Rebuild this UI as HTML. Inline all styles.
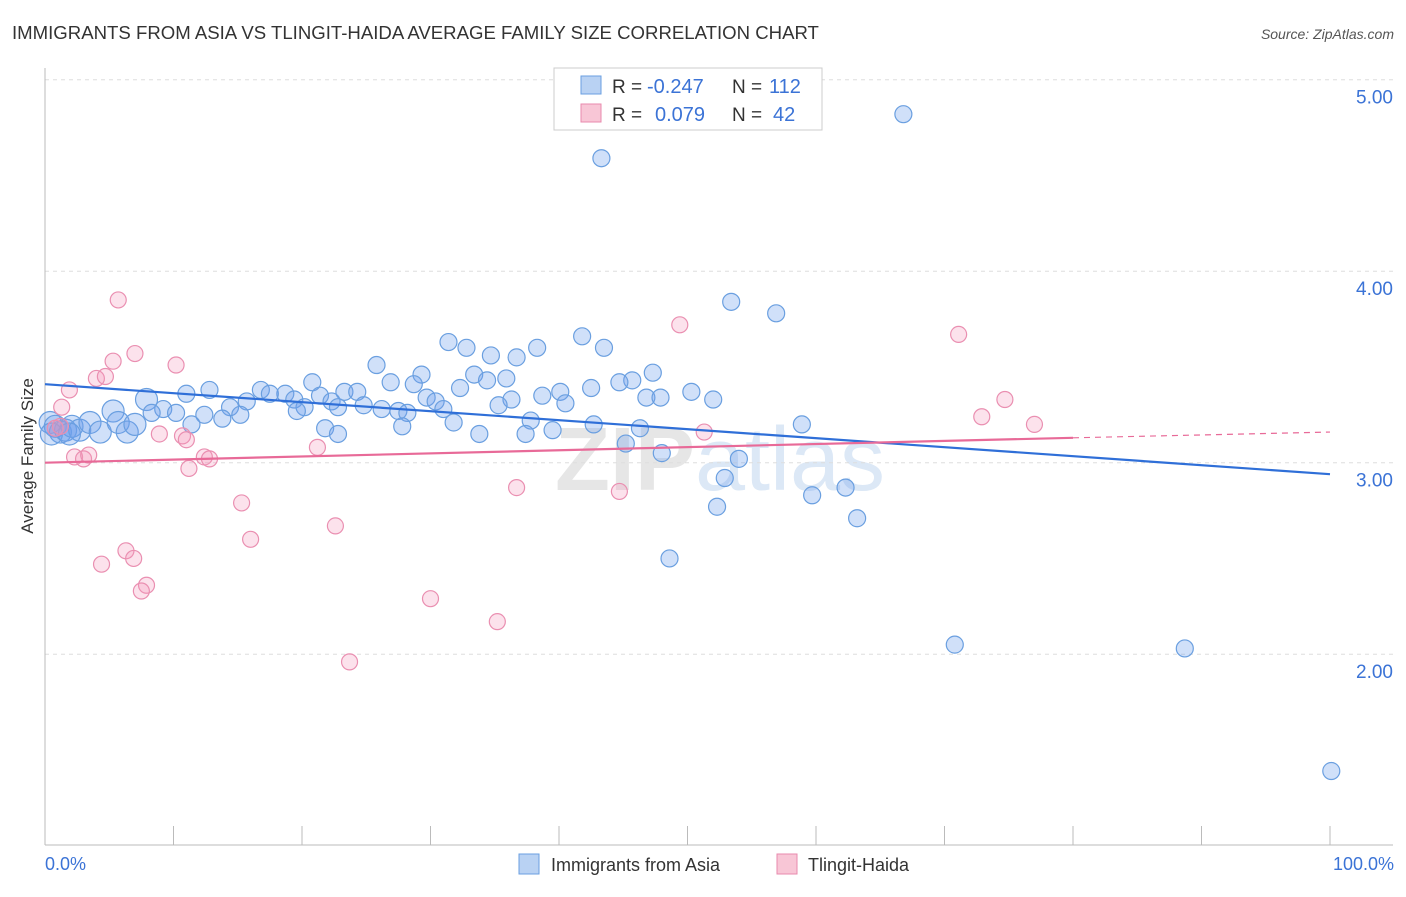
<!DOCTYPE html>
<html><head><meta charset="utf-8"><style>
body{margin:0;background:#fff;font-family:"Liberation Sans",sans-serif;}
svg text{font-family:"Liberation Sans",sans-serif;}
</style></head><body>
<svg id="chart" width="1406" height="892">
<text x="12" y="39" font-size="18.6" fill="#333">IMMIGRANTS FROM ASIA VS TLINGIT-HAIDA AVERAGE FAMILY SIZE CORRELATION CHART</text>
<text x="1394" y="39" font-size="14" fill="#555" font-style="italic" text-anchor="end">Source: ZipAtlas.com</text>
<text x="720" y="490" font-size="90" fill="#e6e6e6" text-anchor="middle" font-weight="bold">ZIP<tspan fill="#dce8f6" font-weight="normal">atlas</tspan></text>
<g id="grid"></g><g id="axes"></g><g id="marks"></g>
<text x="33" y="456" font-size="17" fill="#333" text-anchor="middle" transform="rotate(-90 33 456)">Average Family Size</text>
<text x="45" y="870" font-size="18" fill="#3b73d6">0.0%</text>
<text x="1394" y="870" font-size="18" fill="#3b73d6" text-anchor="end">100.0%</text>
<g>
<rect x="554" y="68" width="268" height="62" fill="#fff" stroke="#ccc"/>
<rect x="581" y="76" width="20" height="18" fill="#b9d2f3" stroke="#6a9fe0"/>
<rect x="581" y="104" width="20" height="18" fill="#f8c6d6" stroke="#e88aad"/>
<text x="612" y="93" font-size="19" fill="#333">R =</text>
<text x="647" y="93" font-size="20" fill="#3b73d6">-0.247</text>
<text x="732" y="93" font-size="19" fill="#333">N =</text>
<text x="769" y="93" font-size="20" fill="#3b73d6">112</text>
<text x="612" y="121" font-size="19" fill="#333">R =</text>
<text x="655" y="121" font-size="20" fill="#3b73d6">0.079</text>
<text x="732" y="121" font-size="19" fill="#333">N =</text>
<text x="773" y="121" font-size="20" fill="#3b73d6">42</text>
</g>
<g>
<rect x="519" y="854" width="20" height="20" fill="#b9d2f3" stroke="#6a9fe0"/>
<text x="551" y="871" font-size="18" fill="#333">Immigrants from Asia</text>
<rect x="777" y="854" width="20" height="20" fill="#f8c6d6" stroke="#e88aad"/>
<text x="808" y="871" font-size="18" fill="#333">Tlingit-Haida</text>
</g>
</svg>
<script>
const yTicks=[2,3,4,5];
const yTickLabels=["2.00","3.00","4.00","5.00"];
const blueX=[66.8,43.3,53.4,56.9,31.4,32.8,41.8,43.5,38.3,34.7,36.7,25.8,47.3,33.4,29.3,34.4,35.9,45.7,44.7,26.9,20.8,28.7,32.3,42.5,11.0,12.8,16.8,18.7,23.3,24.3,50.3,52.0,46.8,47.9,40.1,38.7,40.5,36.3,29.7,30.4,7.9,9.2,10.2,8.3,14.4,15.7,17.5,19.4,20.2,21.4,22.3,24.8,22.8,26.2,27.5,28.2,31.0,35.3,19.6,15.2,12.4,13.8,11.4,27.8,31.8,37.8,42.7,46.3,58.9,21.8,22.8,33.8,37.4,39.5,45.2,48.0,54.0,52.9,62.3,59.7,52.3,63.2,48.6,70.8,88.7,100.1,0.4,0.8,1.2,1.6,2.1,2.7,3.5,4.3,5.3,5.7,6.4,7.0,0.5,1.9];
const blueY=[4.82,4.59,3.84,3.78,3.63,3.60,3.66,3.60,3.60,3.56,3.55,3.51,3.47,3.46,3.46,3.43,3.44,3.43,3.42,3.42,3.42,3.41,3.39,3.39,3.36,3.38,3.38,3.36,3.37,3.37,3.37,3.33,3.34,3.34,3.37,3.35,3.31,3.33,3.34,3.32,3.33,3.28,3.26,3.26,3.29,3.32,3.36,3.33,3.29,3.35,3.32,3.30,3.29,3.28,3.27,3.26,3.28,3.30,3.27,3.25,3.25,3.23,3.20,3.19,3.21,3.22,3.20,3.18,3.20,3.18,3.15,3.15,3.15,3.17,3.10,3.05,3.02,2.92,2.87,2.83,2.77,2.71,2.50,2.05,2.03,1.39,3.21,3.19,3.16,3.17,3.19,3.17,3.21,3.16,3.27,3.21,3.16,3.20,3.15,3.15];
const pinkX=[5.7,1.9,1.3,4.0,4.7,5.3,7.0,10.2,49.4,71.1,72.9,74.7,77.0,51.3,8.9,10.7,11.0,2.3,3.0,3.4,12.4,12.8,11.2,21.2,36.7,44.7,15.3,22.6,16.0,6.3,6.9,4.4,7.9,7.5,30.0,35.2,23.7,0.8,1.2];
const pinkY=[3.85,3.38,3.29,3.44,3.45,3.53,3.57,3.51,3.72,3.67,3.24,3.33,3.20,3.16,3.15,3.14,3.12,3.03,3.02,3.04,3.03,3.02,2.97,3.08,2.87,2.85,2.79,2.67,2.60,2.54,2.50,2.47,2.36,2.33,2.29,2.17,1.96,3.18,3.19];
const blueTrend=[3.41,2.94];
const pinkTrend=[3.00,3.13,3.16];
const NS="http://www.w3.org/2000/svg";
const xs=v=>45+v*12.85;
const ys=v=>845.7-(v-1)*191.5;
function mk(tag,parent,attrs){const e=document.createElementNS(NS,tag);for(const k in attrs)e.setAttribute(k,attrs[k]);document.getElementById(parent).appendChild(e);return e;}
yTicks.forEach((t,i)=>{
 const g=mk('line','grid',{x1:45,x2:1393,y1:ys(t),y2:ys(t),stroke:'#ddd','stroke-dasharray':'4,4'});
 
 
 const l=mk('text','grid',{x:1393,y:ys(t)+24,'font-size':19,fill:'#3b73d6','text-anchor':'end'});
 l.textContent=yTickLabels[i];
 
 
});
const ax=mk('line','axes',{x1:45,x2:1393,y1:845,y2:845,stroke:'#bbb'});


const ay=mk('line','axes',{x1:45,x2:45,y1:68,y2:845,stroke:'#bbb'});


for(let i=1;i<=10;i++){const t=mk('line','axes',{x1:xs(i*10),x2:xs(i*10),y1:826,y2:845,stroke:'#bbb'});
 
 }
blueX.forEach((x,i)=>{const r=x<8?11:8.5;const c=mk('circle','marks',{cx:xs(x),cy:ys(blueY[i]),r:r,fill:'rgba(110,160,235,0.32)',stroke:'#6a9fe0','stroke-width':1.2});
 
 });
pinkX.forEach((x,i)=>{const c=mk('circle','marks',{cx:xs(x),cy:ys(pinkY[i]),r:8,fill:'rgba(245,150,185,0.28)',stroke:'#ea8fb1','stroke-width':1.2});
 
 });
const bl=mk('line','marks',{x1:xs(0),y1:ys(blueTrend[0]),x2:xs(100),y2:ys(blueTrend[1]),stroke:'#2f6fd8','stroke-width':2.2});


const pl=mk('line','marks',{x1:xs(0),y1:ys(pinkTrend[0]),x2:xs(80),y2:ys(pinkTrend[1]),stroke:'#e86a98','stroke-width':2.2});


const pd=mk('line','marks',{x1:xs(80),y1:ys(pinkTrend[1]),x2:xs(100),y2:ys(pinkTrend[2]),stroke:'#e86a98','stroke-width':1.2,'stroke-dasharray':'6,5'});


</script>
</body></html>
